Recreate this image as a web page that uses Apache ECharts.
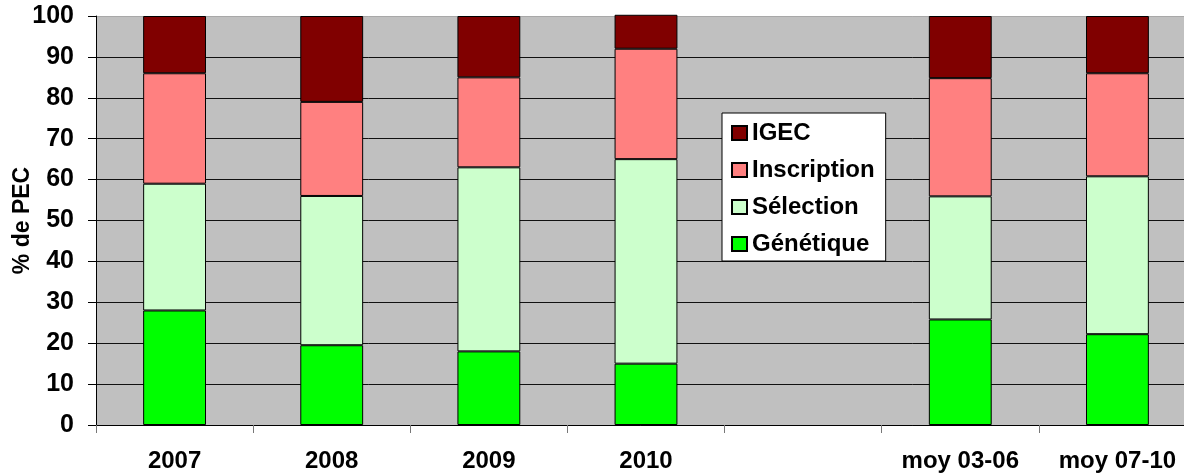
<!DOCTYPE html>
<html>
<head>
<meta charset="utf-8">
<script src="https://cdn.jsdelivr.net/npm/echarts@6/dist/echarts.min.js"></script>
<style>
html,body{margin:0;padding:0;background:#fff;}
#chart{width:1184px;height:474px;}
</style>
</head>
<body>
<div id="chart"></div>
<script>
const categories = ['2007', '2008', '2009', '2010', '', 'moy 03-06', 'moy 07-10'];
const genetique = [28, 19.5, 18, 15, null, 25.8, 22.2];
const selection = [31, 36.5, 45, 50, null, 30.1, 38.6];
const inscription = [27, 23, 22, 27, null, 28.9, 25.2];
const igec = [14, 21, 15, 8.3, null, 15.2, 14];
const yTicks = [0, 10, 20, 30, 40, 50, 60, 70, 80, 90, 100];

const FONT = '"Liberation Sans", Arial, sans-serif';
const chart = echarts.init(document.getElementById('chart'));

function mk(name, data, color) {
  return {
    name: name, type: 'bar', stack: 'total', data: data,
    barWidth: '40%', clip: false,
    itemStyle: { color: color, borderColor: '#000', borderWidth: 1 },
    emphasis: { disabled: true }
  };
}

const gridColors = yTicks.map(v => v === 100 ? '#a8a8a8' : '#111');

chart.setOption({
  animation: false,
  backgroundColor: '#fff',
  grid: { left: 96, top: 16, bottom: 49, right: -12, outerBoundsMode: 'none', containLabel: false,
          show: true, backgroundColor: '#c0c0c0', borderWidth: 0 },
  legend: {
    orient: 'vertical', left: 722, top: 113,
    data: ['IGEC', 'Inscription', 'Sélection', 'Génétique'],
    backgroundColor: '#fff', borderColor: '#000', borderWidth: 1,
    padding: [8, 11, 5, 9],
    itemWidth: 15, itemHeight: 14, itemGap: 13,
    icon: 'rect',
    textStyle: { fontFamily: FONT, fontWeight: 'bold', fontSize: 24, color: '#000', padding: [0, 0, 0, 0] },
    selectedMode: false
  },
  xAxis: {
    type: 'category', data: categories,
    axisLine: { lineStyle: { color: '#000', width: 1 } },
    axisTick: { show: true, length: 8, lineStyle: { color: '#777' } },
    axisLabel: { fontFamily: FONT, fontWeight: 'bold', fontSize: 24, color: '#000', margin: 24, interval: 0 },
    splitLine: { show: false }
  },
  yAxis: {
    type: 'value', min: 0, max: 100, interval: 10,
    name: '% de PEC', nameLocation: 'middle', nameGap: 62, nameRotate: 90, nameMoveOverlap: false,
    nameTextStyle: { fontFamily: FONT, fontWeight: 'bold', fontSize: 23, color: '#000' },
    axisLine: { show: true, lineStyle: { color: '#000', width: 1 } },
    axisTick: { show: true, length: 8, lineStyle: { color: '#000' } },
    axisLabel: { fontFamily: FONT, fontWeight: 'bold', fontSize: 25, color: '#000', margin: 22 },
    splitLine: { show: true, lineStyle: { color: gridColors, width: 1 } }
  },
  series: [
    mk('Génétique', genetique, '#00ff00'),
    mk('Sélection', selection, '#ccffcc'),
    mk('Inscription', inscription, '#ff8080'),
    mk('IGEC', igec, '#800000')
  ]
});
</script>
</body>
</html>
